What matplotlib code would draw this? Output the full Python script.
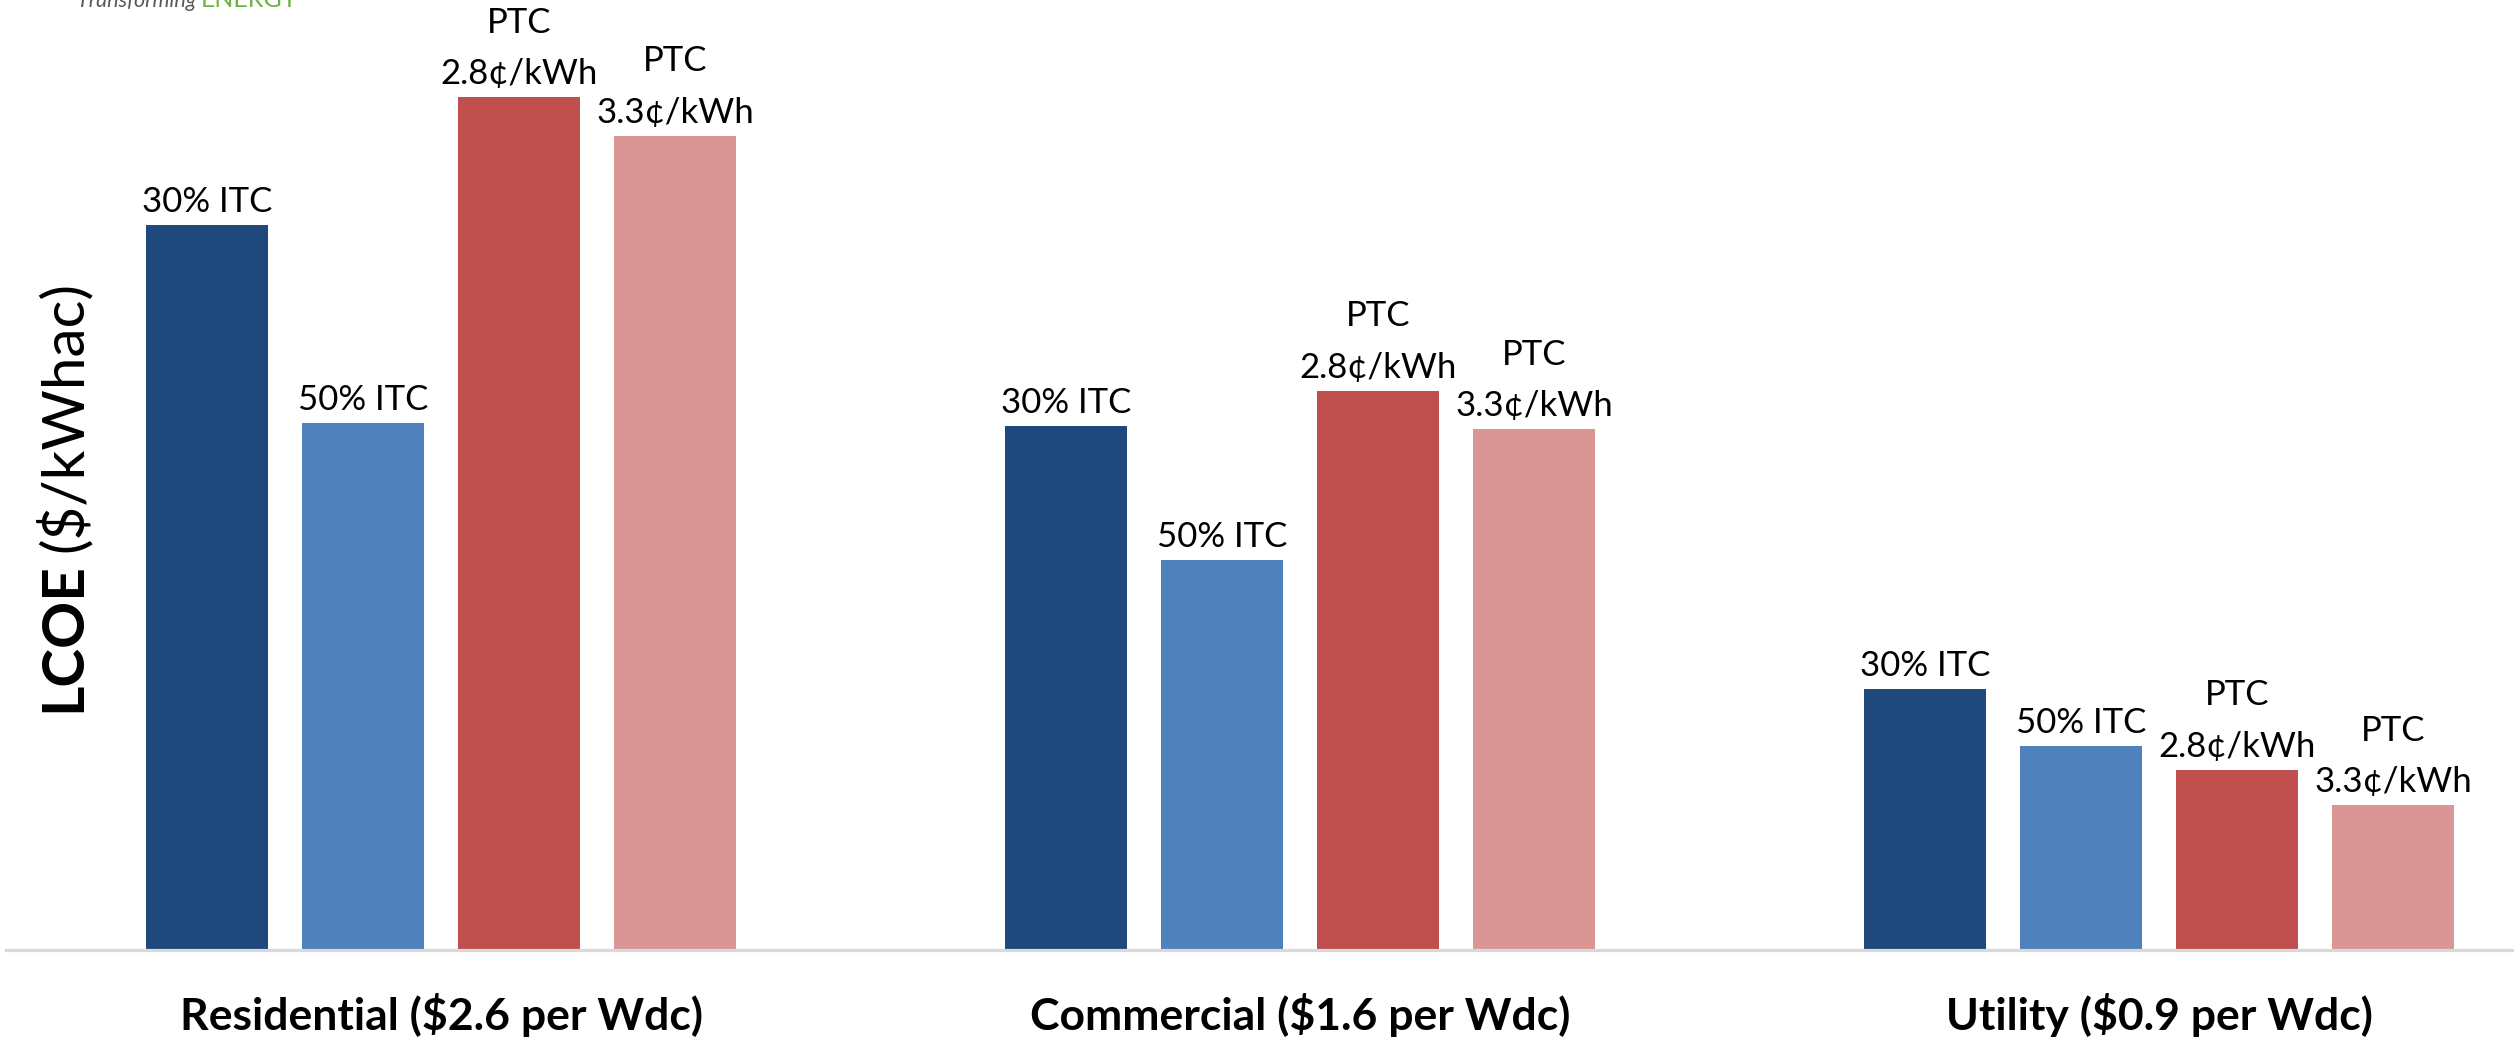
import matplotlib
matplotlib.use("Agg")
import matplotlib.pyplot as plt
import numpy as np

# LCOE by market segment and incentive (cents/kWh, no axis scale shown)
segments = ['Residential ($2.6 per Wdc)', 'Commercial ($1.6 per Wdc)', 'Utility ($0.9 per Wdc)']
incentives = ['30% ITC', '50% ITC', 'PTC\n2.8¢/kWh', 'PTC\n3.3¢/kWh']
itc30 = [13.6, 9.83, 4.89]
itc50 = [9.88, 7.32, 3.83]
ptc28 = [16.0, 10.49, 3.38]
ptc33 = [15.27, 9.77, 2.72]
colors = ['#1F497D', '#4F81BD', '#C0504D', '#D99694']

plt.rcParams['font.family'] = ['Lato', 'DejaVu Sans']

W, H = 2514, 1039
fig = plt.figure(figsize=(W / 100, H / 100), dpi=100)
base = 950
ax = fig.add_axes([6 / W, (H - base) / H, 1 - 6 / W, base / H])

x = np.arange(len(segments))
pitch = 156 / 859
width = 122 / 859
series = [itc30, itc50, ptc28, ptc33]
for i, (vals, lab, col) in enumerate(zip(series, incentives, colors)):
    pos = x + (i - 1.5) * pitch
    bars = ax.bar(pos, vals, width, color=col, zorder=2)
    for b, v in zip(bars, vals):
        ax.annotate(lab, (b.get_x() + b.get_width() / 2, v), xytext=(0, 5),
                    textcoords='offset points', ha='center', va='bottom',
                    fontsize=25, linespacing=1.75, color='black')

ax.set_xlim(-441 / 859 + 6 / 859, (W - 441) / 859)
ax.set_ylim(0, 16.0 * base / 853)
ax.axhline(0, color='#D9D9D9', lw=2.3, zorder=3, clip_on=False)
for s in ax.spines.values():
    s.set_visible(False)
ax.set_yticks([])
ax.set_xticks([])

# category labels under each group
for xi, name in zip(x, segments):
    ax.text(xi, -65 / 853 * 16.0, name, ha='center', va='center',
            fontsize=32, fontweight='bold')

# y-axis title: bold "LCOE" then the units in regular weight
ylab_x = 64 / W
t1 = fig.text(ylab_x, (H - 712) / H, 'LCOE', rotation=90, ha='center',
              va='bottom', fontsize=42, fontweight='bold')
fig.canvas.draw()
bb = t1.get_window_extent()
fig.text(ylab_x, (bb.y1 + 10) / H, '($/kWhac)', rotation=90, ha='center',
         va='bottom', fontsize=42)

# clipped logo tagline at the top edge
t3 = fig.text(77 / W, 1 - 7 / H, 'Transforming ', fontsize=15.5, style='italic',
              color='#595959', va='baseline', ha='left')
fig.canvas.draw()
bb3 = t3.get_window_extent()
fig.text(bb3.x1 / W, 1 - 7 / H, 'ENERGY', fontsize=18, color='#6CB33F',
         va='baseline', ha='left')

fig.savefig('out.png', dpi=100)
